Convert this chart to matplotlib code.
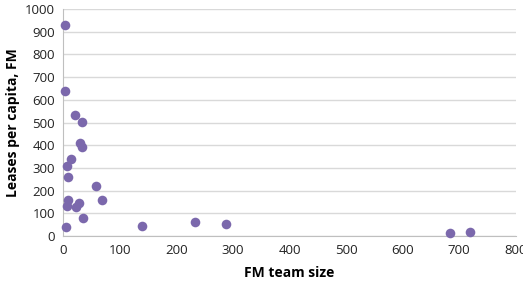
import matplotlib
matplotlib.use("Agg")
import matplotlib.pyplot as plt

team_size = [2, 2, 20, 32, 29, 33, 13, 7, 8.5, 57, 8.5, 69, 7, 27, 22, 34.5, 4, 139, 233, 288, 684, 719]
leases = [929, 637, 532, 501, 408, 392, 338, 308, 260, 220, 157, 157, 131, 144, 128, 81, 38, 45, 63, 53, 13, 18]
yticks = list(range(0, 1001, 100))
xticks = list(range(0, 801, 100))

plt.rcParams['font.family'] = ['Open Sans', 'DejaVu Sans']
fig = plt.figure(figsize=(5.23, 2.84), dpi=100)
ax = fig.add_axes([0.1214, 0.169, 0.8643, 0.799])
ax.scatter(team_size, leases, s=48, color='#7B68AC', zorder=3, linewidths=0, clip_on=False)
ax.set_xlim(0, 800)
ax.set_ylim(0, 1000)
ax.set_xticks(xticks)
ax.set_yticks(yticks)
ax.grid(axis='y', color='#D9D9D9', linewidth=1)
ax.set_axisbelow(True)
for s in ['top', 'right']:
    ax.spines[s].set_visible(False)
for s in ['left', 'bottom']:
    ax.spines[s].set_color('#BFBFBF')
ax.tick_params(length=0, labelsize=9.5, colors='#222222', pad=6)
ax.set_xlabel('FM team size', fontsize=10, fontweight='bold', labelpad=6)
ax.set_ylabel('Leases per capita, FM', fontsize=10, fontweight='bold', labelpad=4)
fig.savefig('out.png', dpi=100)
